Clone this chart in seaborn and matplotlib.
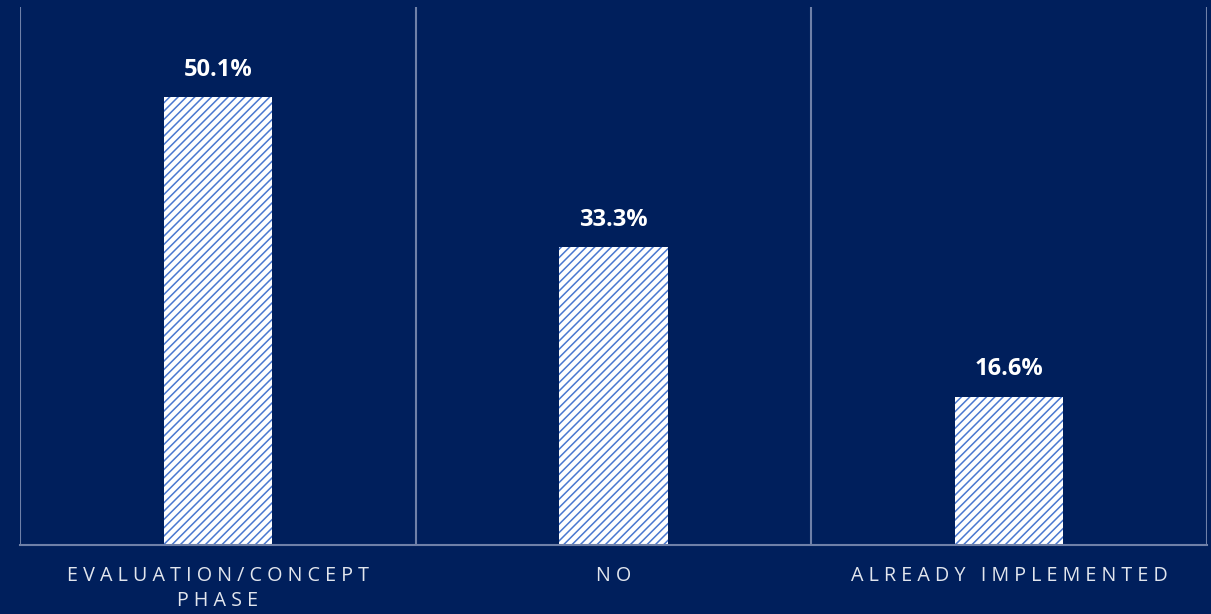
import matplotlib
matplotlib.use("Agg")
import matplotlib.pyplot as plt
import seaborn as sns
import pandas as pd

categories = ["EVALUATION/CONCEPT\nPHASE", "NO", "ALREADY IMPLEMENTED"]
values = [50.1, 33.3, 16.6]
value_labels = ["50.1%", "33.3%", "16.6%"]

BG = "#001F5C"
GRID = "#6F80A8"
HATCH = "#4A78D0"
TXT = "#E2E6EE"

def spaced(s):
    lines = []
    for line in s.split("\n"):
        words = line.split(" ")
        lines.append("   ".join(" ".join(w) for w in words))
    return "\n".join(lines)

sns.set_theme(style="white")
plt.rcParams["font.family"] = ["Open Sans", "DejaVu Sans"]
plt.rcParams["hatch.linewidth"] = 1.1

df = pd.DataFrame({"cat": categories, "val": values})

fig = plt.figure(figsize=(12.11, 6.14), dpi=100, facecolor=BG)
ax = fig.add_axes([20/1211, 1-545/614, (1207-20)/1211, (545-7)/614])
ax.set_facecolor(BG)

sns.barplot(data=df, x="cat", y="val", color="white", width=0.273, ax=ax,
            edgecolor=HATCH, linewidth=0, saturation=1)
for p in ax.patches:
    p.set_hatch("////")
    p.set_facecolor("white")
    p.set_edgecolor(HATCH)
    p.set_linewidth(0)

for i, (v, lab) in enumerate(zip(values, value_labels)):
    ax.annotate(lab, (i, v), xytext=(0, 11), textcoords="offset points",
                ha="center", va="bottom", color="white", fontsize=17,
                fontweight="bold")

for xb in [-0.5, 0.5, 1.5, 2.5]:
    ax.axvline(xb, color=GRID, lw=1.5, zorder=0)

ax.set_xlim(-0.5, 2.5)
ax.set_ylim(0, 60.2)
for s in ["top", "left", "right"]:
    ax.spines[s].set_visible(False)
ax.spines["bottom"].set_color(GRID)
ax.spines["bottom"].set_linewidth(1.5)
ax.set_yticks([])
ax.set_xticks(range(len(categories)))
ax.set_xticklabels([spaced(c) for c in categories], color=TXT, fontsize=14.2,
                   linespacing=1.35)
ax.tick_params(axis="x", length=0, pad=15)
ax.set_xlabel("")
ax.set_ylabel("")

fig.savefig("out.png", dpi=100, facecolor=BG)
